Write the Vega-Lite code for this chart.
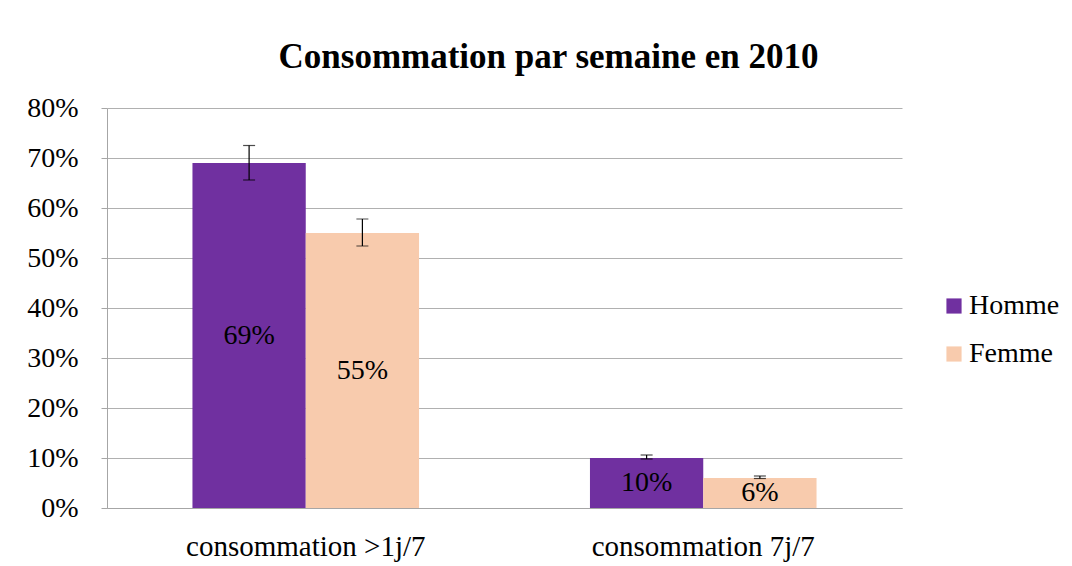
{
  "$schema": "https://vega.github.io/schema/vega-lite/v6.json",
  "autosize": "none",
  "width": 795,
  "height": 400,
  "padding": {"left": 107, "top": 108, "right": 170, "bottom": 58},
  "background": "white",
  "config": {
    "font": "Liberation Serif",
    "view": {"stroke": null}
  },
  "title": {
    "text": "Consommation par semaine en 2010",
    "font": "Liberation Serif",
    "fontSize": 35,
    "fontWeight": "bold",
    "color": "black",
    "anchor": "middle",
    "dx": 44,
    "offset": 19
  },
  "data": {
    "values": [
      {"cat": "consommation >1j/7", "sexe": "Homme", "value": 0.69, "lo": 0.656, "hi": 0.725, "label": "69%"},
      {"cat": "consommation >1j/7", "sexe": "Femme", "value": 0.55, "lo": 0.524, "hi": 0.578, "label": "55%"},
      {"cat": "consommation 7j/7", "sexe": "Homme", "value": 0.10, "lo": 0.098, "hi": 0.106, "label": "10%"},
      {"cat": "consommation 7j/7", "sexe": "Femme", "value": 0.06, "lo": 0.059, "hi": 0.064, "label": "6%"}
    ]
  },
  "encoding": {
    "x": {
      "field": "cat",
      "type": "nominal",
      "sort": ["consommation >1j/7", "consommation 7j/7"],
      "scale": {"paddingInner": 0.43, "paddingOuter": 0.215},
      "axis": {
        "title": null,
        "labelAngle": 0,
        "labelFontSize": 29,
        "labelLimit": 400,
        "labelColor": "black",
        "labelFont": "Liberation Serif",
        "domainColor": "#a6a6a6",
        "ticks": false,
        "labelPadding": 24
      }
    },
    "xOffset": {"field": "sexe", "type": "nominal", "sort": ["Homme", "Femme"]}
  },
  "layer": [
    {
      "mark": {"type": "bar"},
      "encoding": {
        "y": {
          "field": "value",
          "type": "quantitative",
          "scale": {"domain": [0, 0.8]},
          "axis": {
            "title": null,
            "format": ".0%",
            "values": [0, 0.1, 0.2, 0.3, 0.4, 0.5, 0.6, 0.7, 0.8],
            "labelFontSize": 28,
            "labelColor": "black",
            "labelFont": "Liberation Serif",
            "gridColor": "#b0b0b0",
            "gridWidth": 1,
            "domainColor": "#a6a6a6",
            "tickColor": "#a6a6a6",
            "tickSize": 6,
            "labelPadding": 23
          }
        },
        "color": {
          "field": "sexe",
          "type": "nominal",
          "sort": ["Homme", "Femme"],
          "scale": {"domain": ["Homme", "Femme"], "range": ["#7030A0", "#F8CBAD"]},
          "legend": {
            "title": null,
            "orient": "none",
            "legendX": 833,
            "legendY": 184,
            "symbolType": "square",
            "symbolSize": 230,
            "symbolStrokeWidth": 0,
            "labelFontSize": 28,
            "labelFont": "Liberation Serif",
            "labelColor": "black",
            "rowPadding": 20,
            "labelOffset": 1
          }
        }
      }
    },
    {
      "mark": {"type": "rule", "color": "black", "strokeWidth": 1.2},
      "encoding": {
        "y": {"field": "lo", "type": "quantitative"},
        "y2": {"field": "hi"}
      }
    },
    {
      "mark": {"type": "tick", "color": "black", "size": 12, "thickness": 1.2},
      "encoding": {"y": {"field": "lo", "type": "quantitative"}}
    },
    {
      "mark": {"type": "tick", "color": "black", "size": 12, "thickness": 1.2},
      "encoding": {"y": {"field": "hi", "type": "quantitative"}}
    },
    {
      "transform": [{"calculate": "datum.value / 2", "as": "mid"}],
      "mark": {"type": "text", "fontSize": 28, "font": "Liberation Serif", "color": "black", "baseline": "middle"},
      "encoding": {
        "y": {"field": "mid", "type": "quantitative"},
        "text": {"field": "label"}
      }
    }
  ]
}
